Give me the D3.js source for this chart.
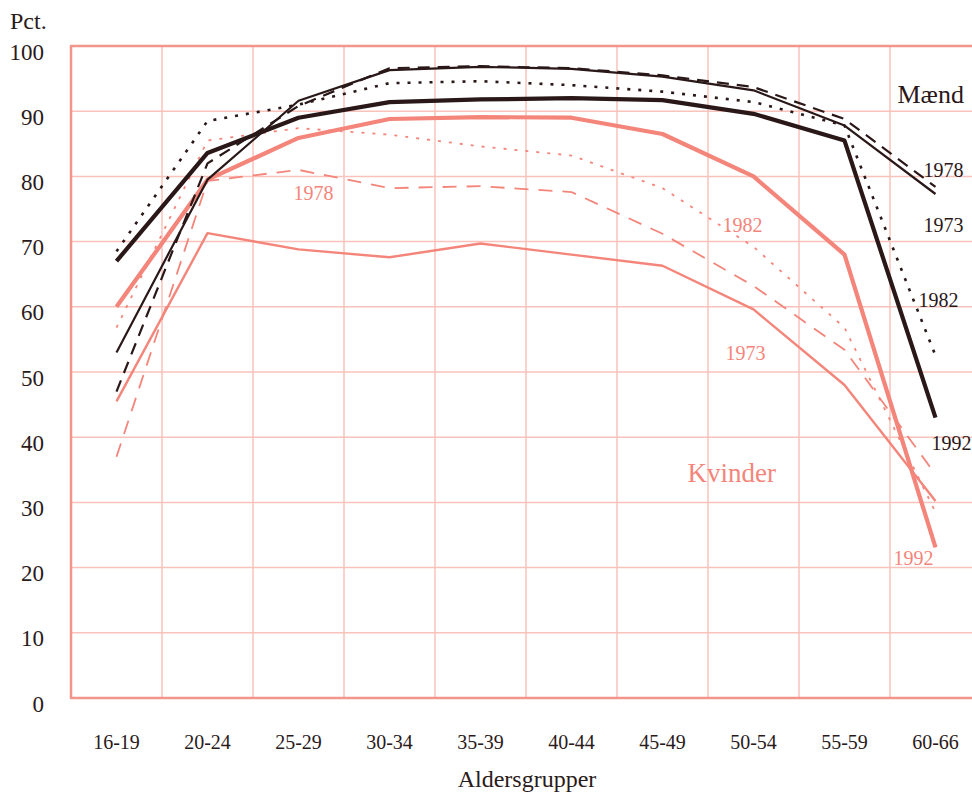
<!DOCTYPE html>
<html>
<head>
<meta charset="utf-8">
<script src="https://cdn.jsdelivr.net/npm/d3@7"></script>
<style>
  html, body { margin: 0; padding: 0; background: #fff; }
  svg { display: block; font-family: "Liberation Serif", "DejaVu Serif", serif; }
</style>
</head>
<body>
<svg id="chart" width="972" height="794"></svg>
<script>
// ---- Data ----
const categories = ["16-19","20-24","25-29","30-34","35-39","40-44","45-49","50-54","55-59","60-66"];
const yTicks = [0,10,20,30,40,50,60,70,80,90,100];

const men1973   = [53, 79.5, 91.6, 96.3, 96.8, 96.5, 95.3, 93.2, 87.8, 77.3];
const men1978   = [47, 82, 90.8, 96.6, 96.9, 96.6, 95.5, 93.7, 88.8, 78.4];
const men1982   = [68.5, 88.5, 91, 94.3, 94.6, 94, 93, 91.4, 87.8, 52.5];
const men1992   = [67, 83.6, 89, 91.4, 91.8, 92, 91.7, 89.6, 85.5, 43];

const women1973 = [45.5, 71.3, 68.8, 67.6, 69.7, 68, 66.3, 59.6, 48, 30.2];
const women1978 = [37, 79.3, 81, 78.2, 78.5, 77.6, 71.2, 63.2, 53.4, 34.3];
const women1982 = [56.8, 85.5, 87.4, 86.4, 84.6, 83.2, 78.2, 69.2, 56.8, 28.5];
const women1992 = [60, 79.5, 85.9, 88.8, 89.1, 89, 86.5, 80, 68, 23.1];

const seriesNames = ["men1973","men1978","men1982","men1992","women1973","women1978","women1982","women1992"];
const seriesValues = [men1973, men1978, men1982, men1992, women1973, women1978, women1982, women1992];

// label texts with anchor (category, value)
const labelTexts  = ["1978","1973","1982","1992","1982","1973","1992","1978","Mænd","Kvinder"];
const labelCats   = ["60-66","60-66","60-66","60-66","50-54","50-54","60-66","25-29","60-66","50-54"];
const labelValues = [79.9, 71.5, 60, 38, 71.5, 51.8, 20.4, 76.4, 91.3, 33.1];

// ---- Styles ----
const MEN = "#2a1818", WOMEN = "#f4857a";
const styles = {
  men1973:   {color: MEN, width: 2.2, dash: null},
  men1978:   {color: MEN, width: 2.2, dash: "12,8"},
  men1982:   {color: MEN, width: 2.6, dash: "3,8"},
  men1992:   {color: MEN, width: 4.2, dash: null},
  women1973: {color: WOMEN, width: 2.4, dash: null},
  women1978: {color: WOMEN, width: 1.8, dash: "14,10"},
  women1982: {color: WOMEN, width: 1.8, dash: "3,8"},
  women1992: {color: WOMEN, width: 4.2, dash: null}
};
const labelStyles = [
  {c: MEN, s: 20, dx: -12}, {c: MEN, s: 20, dx: -12}, {c: MEN, s: 20, dx: -17}, {c: MEN, s: 20, dx: -4},
  {c: WOMEN, s: 20, dx: -31}, {c: WOMEN, s: 20, dx: -28}, {c: WOMEN, s: 20, dx: -42}, {c: WOMEN, s: 20, dx: -5},
  {c: MEN, s: 26, dx: -38}, {c: WOMEN, s: 27, dx: -66}
];

// ---- Scales ----
const svg = d3.select("#chart");
const x = d3.scaleBand().domain(categories).range([71, 981]).padding(0);
const y = d3.scaleLinear().domain([0, 100]).range([698, 46]);
const cx = c => x(c) + x.bandwidth() / 2;

const GRID = "#f9c2ba", FRAME = "#f4958b";

// horizontal grid
svg.append("g").selectAll("line").data(yTicks.filter(t => t > 0 && t < 100)).join("line")
  .attr("x1", 71).attr("x2", 981).attr("y1", d => y(d)).attr("y2", d => y(d))
  .attr("stroke", GRID).attr("stroke-width", 1.5);
// vertical grid
svg.append("g").selectAll("line").data(categories.slice(1)).join("line")
  .attr("x1", d => x(d)).attr("x2", d => x(d)).attr("y1", y(100)).attr("y2", y(0))
  .attr("stroke", GRID).attr("stroke-width", 1.5);
// frame
svg.append("line").attr("x1", 71).attr("x2", 981).attr("y1", y(100)).attr("y2", y(100)).attr("stroke", FRAME).attr("stroke-width", 2.5);
svg.append("line").attr("x1", 71).attr("x2", 981).attr("y1", y(0)).attr("y2", y(0)).attr("stroke", FRAME).attr("stroke-width", 2.5);
svg.append("line").attr("x1", 71).attr("x2", 71).attr("y1", y(100) - 1).attr("y2", y(0) + 1).attr("stroke", FRAME).attr("stroke-width", 2.5);

// y axis labels
const yAxis = d3.axisLeft(y).tickValues(yTicks).tickSize(0).tickPadding(0);
const gy = svg.append("g").attr("transform", "translate(44,0)").call(yAxis);
gy.select(".domain").remove();
gy.selectAll("text").attr("font-size", 23).attr("fill", "#2a1a1a")
  .attr("font-family", "Liberation Serif").attr("dy", 13).attr("text-anchor", "end");

// x axis labels
const xAxis = d3.axisBottom(x).tickSize(0).tickPadding(0);
const gx = svg.append("g").attr("transform", "translate(0,749)").call(xAxis);
gx.select(".domain").remove();
gx.selectAll("text").attr("font-size", 20).attr("fill", "#2a1a1a")
  .attr("font-family", "Liberation Serif").attr("dy", 0).attr("y", 0)
  .style("dominant-baseline", "alphabetic");

// axis titles
svg.append("text").attr("x", 10).attr("y", 29).attr("font-size", 24).attr("fill", "#2a1a1a").text("Pct.");
svg.append("text").attr("x", 527).attr("y", 787).attr("text-anchor", "middle")
  .attr("font-size", 24).attr("fill", "#2a1a1a").text("Aldersgrupper");

// lines
const line = d3.line().x((d, i) => cx(categories[i])).y(d => y(d));
const order = ["women1973","women1978","women1982","women1992","men1982","men1978","men1973","men1992"];
order.forEach(name => {
  const vals = seriesValues[seriesNames.indexOf(name)];
  const st = styles[name];
  svg.append("path").datum(vals).attr("d", line)
    .attr("fill", "none").attr("stroke", st.color).attr("stroke-width", st.width)
    .attr("stroke-dasharray", st.dash).attr("stroke-linejoin", "round").attr("stroke-linecap", "butt");
});

// labels
labelTexts.forEach((t, i) => {
  const ls = labelStyles[i];
  svg.append("text").attr("x", cx(labelCats[i]) + ls.dx).attr("y", y(labelValues[i]))
    .attr("font-size", ls.s).attr("fill", ls.c).text(t);
});
</script>
</body>
</html>
